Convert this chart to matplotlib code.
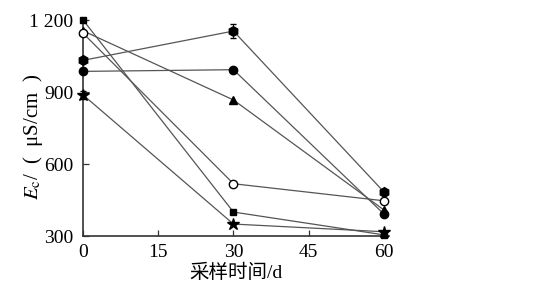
# Ec over sampling time, six treatments

import matplotlib.pyplot as plt

days = [0, 30, 60]
sq = [1200, 400, 305]
pent = [1032, 1154, 484]
circ = [986, 993, 392]
tri = [1155, 867, 409]
ocirc = [1145, 518, 447]
star = [888, 350, 318]
pent_err = [0, 28, 0]
star_err = [18, 0, 0]
yticks = [300, 600, 900, 1200]
ylabels = ['300', '600', '900', '1 200']
xticks = [0, 15, 30, 45, 60]

plt.rcParams['font.family'] = ['Liberation Serif', 'Noto Sans CJK SC']
plt.rcParams['mathtext.fontset'] = 'stix'

fig = plt.figure(figsize=(5.5, 2.9), dpi=100)
ax = fig.add_axes([0.151, 0.186, 0.556, 0.745])

lc = '#555555'
kw = dict(color=lc, lw=0.9, clip_on=False, zorder=3, mec='black', mfc='black')
ax.plot(days, sq, marker='s', ms=5, **kw)
ax.errorbar(days, pent, yerr=pent_err, marker='h', ms=7, capsize=2, ecolor='black', elinewidth=0.7, **kw)
ax.plot(days, circ, marker='o', ms=6, **kw)
ax.plot(days, tri, marker='^', ms=6, **kw)
ax.plot(days, ocirc, marker='o', ms=6, color=lc, lw=0.9, clip_on=False, zorder=3, mec='black', mfc='white')
ax.errorbar(days, star, yerr=star_err, marker='*', ms=9, capsize=2, ecolor='black', elinewidth=0.7, **kw)

ax.set_xlim(0, 61)
ax.set_ylim(300, 1200)
ax.set_xticks(xticks)
ax.set_yticks(yticks)
ax.set_yticklabels(ylabels)
ax.tick_params(direction='in', labelsize=14, length=4, width=0.9, colors='#333333', labelcolor='black')
ax.tick_params(axis='y', pad=7)
ax.tick_params(axis='x', pad=6)
for s in ['top', 'right']:
    ax.spines[s].set_visible(False)
for s in ['left', 'bottom']:
    ax.spines[s].set_linewidth(1.2)
    ax.spines[s].set_color('#333333')

ax.set_xlabel('采样时间/d', fontsize=14, labelpad=2)
ax.set_ylabel('$E_\\mathrm{c}$/  (  μS/cm  )', fontsize=15)
ax.yaxis.set_label_coords(-0.125, 0.46)

plt.savefig('out.png')
